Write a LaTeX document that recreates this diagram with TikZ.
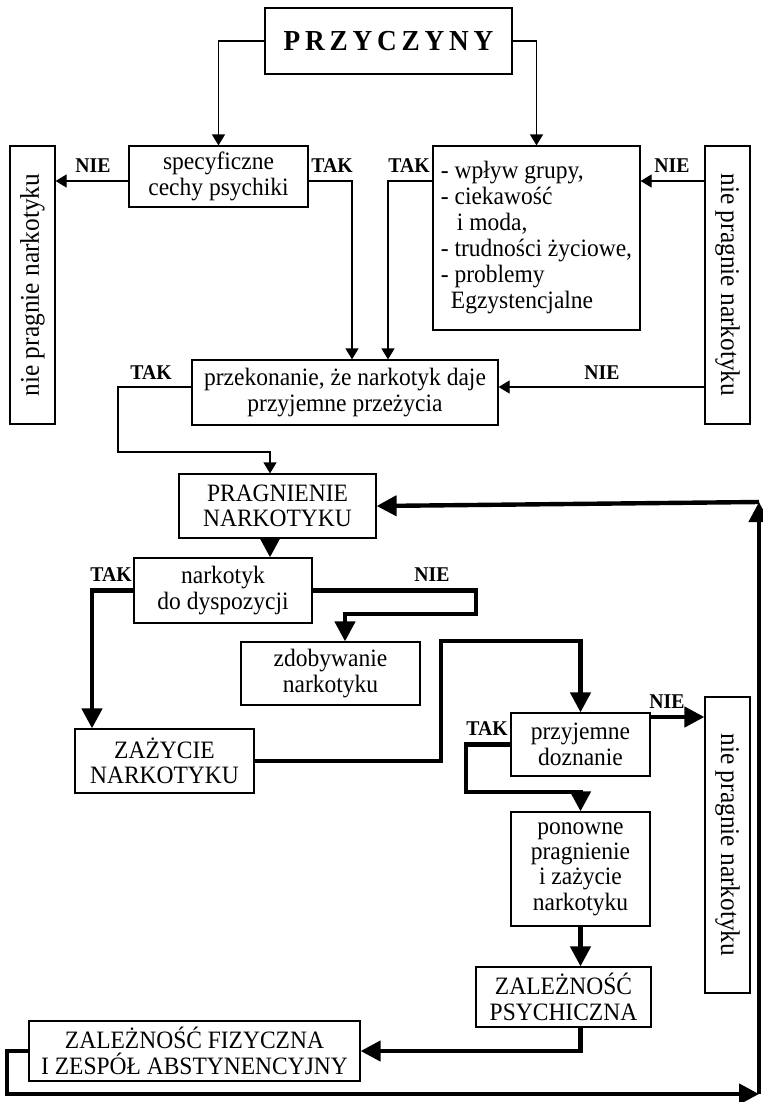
\documentclass[tikz,border=0pt]{standalone}
\usepackage{fontspec}
\setmainfont{Liberation Serif}[FakeStretch=0.94]
\usepackage{graphicx}
\usetikzlibrary{arrows.meta}

\begin{document}
\begin{tikzpicture}[x=0.5pt, y=-0.5pt,
    box/.style={draw, line width=0.6pt, inner sep=0pt, align=center,
        font=\fontsize{12.5}{12.7}\selectfont},
    sidebox/.style={draw, line width=0.6pt, inner sep=0pt,
        font=\fontsize{13.5}{14}\selectfont},
    lbl/.style={inner sep=0pt, font=\fontsize{10.5}{12}\selectfont\bfseries},
    thinarrow/.style={line width=\thinline, -{Triangle[length=5.5pt,width=6.5pt]}},
    thickarrow/.style={line width=\thickline, -{Triangle[length=10pt,width=10pt]}}]

        \def\thinline{0.6pt}
        \def\thickline{2.2pt}

        \useasboundingbox (0, 0) rectangle (762, 1102);

        % boxes
        \node[box, minimum width=123.5pt, minimum height=33pt, font=\fontsize{14.5}{16}\selectfont\bfseries]
            (cause) at (388.5, 41) {P\,R\,Z\,Y\,C\,Z\,Y\,N\,Y};
        \node[box, minimum width=89.5pt, minimum height=30.5pt] (psych) at (218.5, 176.5)
            {specyficzne\\cechy psychiki};
        \node[box, minimum width=103.5pt, minimum height=92pt, align=left,
            font=\fontsize{12.5}{13}\selectfont] (group) at (536.5, 238)
            {- wpływ grupy,\\- ciekawość\\\hspace*{8pt}i moda,\\- trudności życiowe,\\- problemy\\\hspace*{5pt}Egzystencjalne};
        \node[sidebox, minimum width=22.5pt, minimum height=139pt] (noleft) at (32.5, 285)
            {\rotatebox{90}{nie pragnie narkotyku}};
        \node[sidebox, minimum width=22.5pt, minimum height=139pt] (noright) at (727.5, 285)
            {\rotatebox{-90}{nie pragnie narkotyku}};
        \node[box, minimum width=153pt, minimum height=32.5pt] (belief) at (345, 392.5)
            {przekonanie, że narkotyk daje\\przyjemne przeżycia};
        \node[box, minimum width=98.5pt, minimum height=32pt] (desire) at (277.5, 506)
            {PRAGNIENIE\\NARKOTYKU};
        \node[box, minimum width=89pt, minimum height=32.5pt] (avail) at (223, 590.5)
            {narkotyk\\do dyspozycji};
        \node[box, minimum width=89.5pt, minimum height=31.5pt] (obtain) at (330.5, 673.5)
            {zdobywanie\\narkotyku};
        \node[box, minimum width=89.5pt, minimum height=32pt] (take) at (164.5, 761)
            {ZAŻYCIE\\NARKOTYKU};
        \node[box, minimum width=69.5pt, minimum height=31.5pt] (pleasant) at (580.5, 744.5)
            {przyjemne\\doznanie};
        \node[sidebox, minimum width=22.5pt, minimum height=148pt] (nowant) at (727.5, 845)
            {\rotatebox{-90}{nie pragnie narkotyku}};
        \node[box, minimum width=69.5pt, minimum height=57pt] (again) at (580.5, 869)
            {ponowne\\pragnienie\\i zażycie\\narkotyku};
        \node[box, minimum width=87.5pt, minimum height=30pt] (psydep) at (563.5, 997)
            {ZALEŻNOŚĆ\\PSYCHICZNA};
        \node[box, minimum width=165.5pt, minimum height=30pt] (physdep) at (194.5, 1051)
            {ZALEŻNOŚĆ FIZYCZNA\\I ZESPÓŁ ABSTYNENCYJNY};

        % bends
        \coordinate (b1) at (352, 181);
        \coordinate (b2) at (388, 181);
        \coordinate (row2) at (0, 387);
        \coordinate (b3) at (118, 452);
        \coordinate (b4) at (270, 452);
        \coordinate (b5) at (92, 590.5);
        \coordinate (b6) at (476, 614);
        \coordinate (b7) at (345, 614);
        \coordinate (b8) at (441, 641);
        \coordinate (b9) at (650, 717);
        \coordinate (b10) at (466, 792);
        \coordinate (c1) at (7, 1094);
        \coordinate (c2) at (759, 1094);
        \coordinate (c3) at (759, 502);

        % thin connectors
        \draw[thinarrow] (cause.west) -| (psych.north);
        \draw[thinarrow] (cause.east) -| (group.north);
        \draw[thinarrow] (psych.west |- b1) -- (noleft.east |- b1);
        \draw[thinarrow] (psych.east |- b1) -- (b1) -- (b1 |- belief.north);
        \draw[thinarrow] (group.west |- b2) -- (b2) -- (b2 |- belief.north);
        \draw[thinarrow] (noright.west |- b1) -- (group.east |- b1);
        \draw[thinarrow] (noright.west |- row2) -- (belief.east |- row2);
        \draw[thinarrow] (belief.west |- row2) -| (b3) -- (b4) -- (b4 |- desire.north);

        % thick connectors
        \draw[thickarrow] (b4 |- desire.south) -- (b4 |- avail.north);
        \draw[thickarrow] (avail.west) -- (b5) -- (b5 |- take.north);
        \draw[thickarrow] (avail.east) -| (b6) -- (b7) -- (b7 |- obtain.north);
        \draw[thickarrow] (take.east) -| (b8) -| (pleasant.north);
        \draw[thickarrow] (pleasant.east |- b9) -- (nowant.west |- b9);
        \draw[thickarrow] (pleasant.west) -| (b10) -| (again.north);
        \draw[thickarrow] (again.south) -- (again.south |- psydep.north);
        \draw[thickarrow] (again.south |- psydep.south) |- (physdep.east);
        \draw[thickarrow] (physdep.west) -| (c1) -- (c2);
        \draw[thickarrow] (c2) -- (c3);
        \draw[thickarrow] (c3) -- (desire.east);

        % TAK / NIE
        \node[lbl] (n1) at (93, 166) {NIE};
        \node[lbl] (t1) at (332, 166) {TAK};
        \node[lbl] (t2) at (409, 166) {TAK};
        \node[lbl] (n2) at (672, 166) {NIE};
        \node[lbl] (t3) at (151, 373) {TAK};
        \node[lbl] (n3) at (602, 373) {NIE};
        \node[lbl] (t4) at (111, 575) {TAK};
        \node[lbl] (n4) at (432, 575) {NIE};
        \node[lbl] (n5) at (667, 702) {NIE};
        \node[lbl] (t5) at (487, 729) {TAK};

    \end{tikzpicture}
\end{document}
